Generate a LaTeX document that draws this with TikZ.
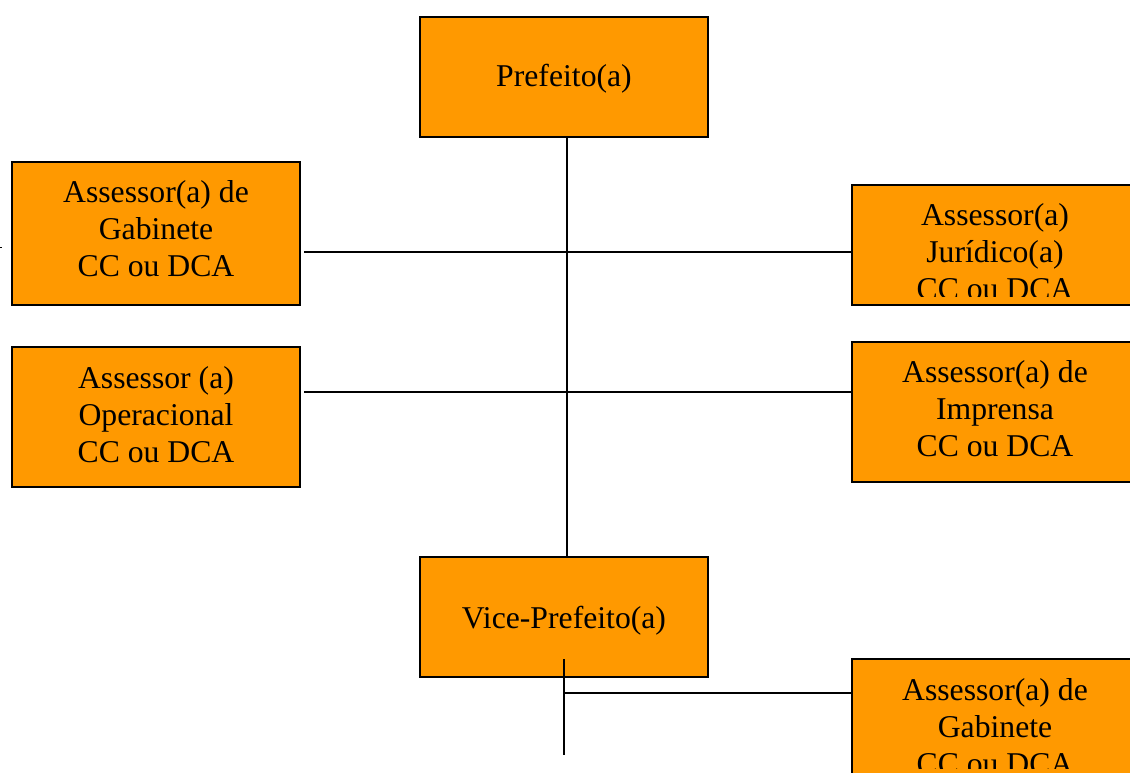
\documentclass[tikz,border=0pt]{standalone}
\usepackage{fontspec}
\setmainfont{Liberation Serif}
\definecolor{org}{RGB}{255,153,0}
\begin{document}
\begin{tikzpicture}[x=1pt,y=-1pt,
  box/.style={draw=black, line width=1.6pt, fill=org, inner sep=0pt},
  lbl/.style={align=center, font=\fontsize{31.7}{37}\selectfont, inner sep=0pt},
  conn/.style={draw=black, line width=1.4pt}]
\useasboundingbox (0,0) rectangle (1130,773);
\clip (0,0) rectangle (1130,773);
% boxes
\node[box, minimum width=288pt, minimum height=120pt] (pref) at (564,77) {};
\node[box, minimum width=288pt, minimum height=143pt] (gabL) at (156,233.5) {};
\node[box, minimum width=286pt, minimum height=120pt] (jur) at (995,245) {};
\node[box, minimum width=288pt, minimum height=140pt] (opL) at (156,417) {};
\node[box, minimum width=286pt, minimum height=140pt] (imp) at (995,412) {};
\node[box, minimum width=288pt, minimum height=120pt] (vice) at (564,617) {};
\node[box, minimum width=286pt, minimum height=134pt] (gabR) at (995,726) {};
% connectors
\draw[conn] ([xshift=3pt]pref.south) -- ([xshift=3pt]vice.north);
\coordinate (h1s) at (304,252);
\draw[conn] (h1s) -- (h1s -| jur.west);
\coordinate (h2s) at (304,392);
\draw[conn] (h2s) -- (h2s -| imp.west);
\coordinate (v2a) at (564,659);
\coordinate (v2b) at (564,755);
\draw[conn] (v2a) -- (v2b);
\coordinate (h3s) at (564,693);
\draw[conn] (h3s) -- (h3s -| gabR.west);
\coordinate (tk1) at (0,247);
\coordinate (tk2) at (2,247);
\draw[line width=1pt] (tk1) -- (tk2);
% labels
\node[lbl] (tpref) at (564,79) {Prefeito(a)};
\node[lbl] (tgabL) at (156,229) {Assessor(a) de\\Gabinete\\CC ou DCA};
\node[lbl] (topL) at (156,414.5) {Assessor (a)\\Operacional\\CC ou DCA};
\node[lbl] (timp) at (995,409) {Assessor(a) de\\Imprensa\\CC ou DCA};
\node[lbl] (tvice) at (564,621) {Vice-Prefeito(a)};
\begin{scope}
\clip (jur.north west) rectangle ([yshift=9pt]jur.south east);
\node[lbl] (tjur) at (995,252) {Assessor(a)\\Jurídico(a)\\CC ou DCA};
\end{scope}
\begin{scope}
\clip (gabR.north west) rectangle (1130,768);
\node[lbl] (tgabR) at (995,727) {Assessor(a) de\\Gabinete\\CC ou DCA};
\end{scope}
\end{tikzpicture}
\end{document}
